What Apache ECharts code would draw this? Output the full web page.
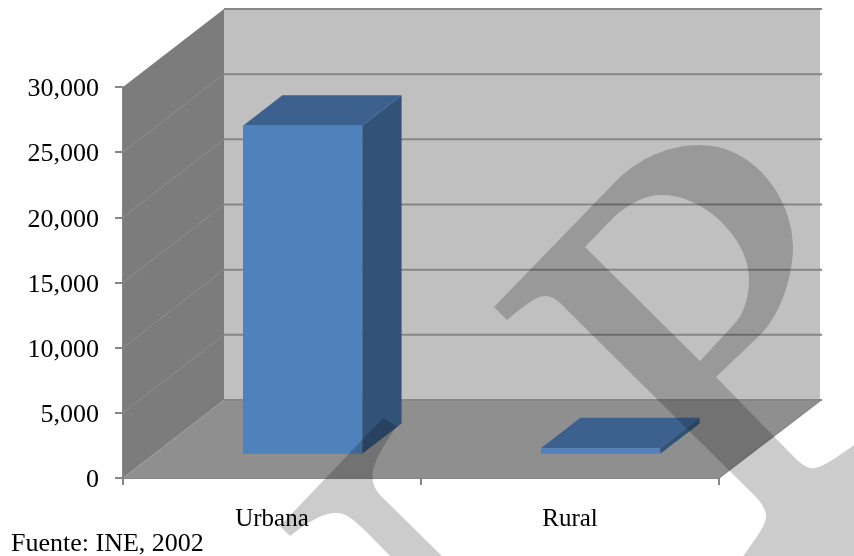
<!DOCTYPE html>
<html>
<head>
<meta charset="utf-8">
<style>
  html,body{margin:0;padding:0;background:#fff}
  #chart{width:854px;height:556px}
</style>
<script src="https://cdn.jsdelivr.net/npm/echarts@6/dist/echarts.min.js"></script>
</head>
<body>
<div id="chart"></div>
<script>
const categories = ['Urbana', 'Rural'];
const values = [25170, 430];
const yTicks = [0, 5000, 10000, 15000, 20000, 25000, 30000];
const sourceText = 'Fuente: INE, 2002';

// perspective of the fake 3d box, in px
const depthX = 101, depthY = 78;
const barFront = 0.31, barBack = 0.70;
const fontName = '"Liberation Serif", "Times New Roman", serif';

// watermark letters over the picture, traced by hand
const markP = 'M494 307 L617 180 C640 158 668 145 700 145 C755 145 793 200 793 247 C793 280 778 318 760 335 L716 377 L797 460 C805 467 810 469 815 468 C825 466 840 455 860 441 L860 562 L739 562 L744 555 C758 535 766 525 766 516 C766 510 762 504 756 497 L567 310 C558 300 552 296 545 296 C535 296 522 308 507 320 Z ' +
    'M585 247 L700 361 L737 321 C745 310 749 295 749 278 C749 240 705 195 662 195 C645 195 630 203 614 217 Z';
const markT = 'M383 418 L280 526 L290 536 C310 520 325 512 338 513 C350 514 360 525 396 562 L448 562 L380 495 C372 486 372 478 373 470 C376 458 385 443 397 426 Z';

const myChart = echarts.init(document.getElementById('chart'));

function poly(points, fill, z2) {
    return { type: 'polygon', z2: z2 || 0, shape: { points: points }, style: { fill: fill } };
}
function line(x1, y1, x2, y2, stroke, width) {
    return { type: 'line', z2: 1, shape: { x1: x1, y1: y1, x2: x2, y2: y2 }, style: { stroke: stroke, lineWidth: width } };
}

function renderWalls(params, api) {
    const cs = params.coordSys;
    const x0 = cs.x, x1 = cs.x + cs.width;
    const yBase = api.coord([0, 0])[1], yTop = api.coord([0, 30000])[1];
    const kids = [
        poly([[x0 + depthX, yTop - depthY], [x1 + depthX, yTop - depthY], [x1 + depthX, yBase - depthY], [x0 + depthX, yBase - depthY]], '#c0c0c0'),
        poly([[x0, yTop], [x0 + depthX, yTop - depthY], [x0 + depthX, yBase - depthY], [x0, yBase]], '#7c7c7c'),
        poly([[x0, yBase], [x0 + depthX, yBase - depthY], [x1 + depthX + 1, yBase - depthY], [x1, yBase]], '#8f8f8f'),
        line(x1, yBase, x1 + depthX + 1, yBase - depthY, '#868686', 1.5)
    ];
    yTicks.forEach(v => {
        const y = api.coord([0, v])[1];
        kids.push(line(x0 + depthX, y - depthY, x1 + depthX + 2, y - depthY, '#868686', 2));
        if (v > 0 && v < 30000) kids.push(line(x0, y, x0 + depthX, y - depthY, '#8e8e8e', 1));
    });
    return { type: 'group', children: kids };
}

function renderBar(params, api) {
    const i = api.value(0);
    const base = api.coord([i, 0]), top = api.coord([i, api.value(1)]);
    const w = api.size([1, 0])[0] * 0.4;
    const fx = base[0] - w / 2 + depthX * barFront - 0.7, fy = depthY * barFront;
    const bx = depthX * (barBack - barFront), by = depthY * (barBack - barFront);
    const yB = base[1] - fy, yT = top[1] - fy;
    return {
        type: 'group',
        children: [
            poly([[fx + w, yT], [fx + w + bx, yT - by], [fx + w + bx, yB - by], [fx + w, yB]], '#325379'),
            poly([[fx, yT], [fx + bx, yT - by], [fx + w + bx, yT - by], [fx + w, yT]], '#3c618f'),
            poly([[fx, yT], [fx + w, yT], [fx + w, yB], [fx, yB]], '#4f81bd')
        ]
    };
}

function renderMark() {
    const fill = 'rgba(0,0,0,0.2)';
    return {
        type: 'group',
        children: [
            { type: 'path', shape: { pathData: markP }, style: { fill: fill } },
            { type: 'path', shape: { pathData: markT }, style: { fill: fill } }
        ]
    };
}

const option = {
    animation: false,
    backgroundColor: '#fff',
    title: {
        text: sourceText,
        left: 11,
        top: 531,
        padding: 0,
        textStyle: { fontFamily: fontName, fontSize: 26, fontWeight: 'normal', color: '#000' }
    },
    grid: { left: 123, right: 135, top: 87, bottom: 78 },
    xAxis: {
        type: 'category',
        data: categories,
        axisLine: { show: true, lineStyle: { color: '#868686', width: 2 } },
        axisTick: { show: true, length: 7, lineStyle: { color: '#868686', width: 2 } },
        axisLabel: { margin: 29, fontFamily: fontName, fontSize: 25, color: '#000' }
    },
    yAxis: {
        type: 'value',
        min: 0,
        max: 30000,
        interval: 5000,
        splitLine: { show: false },
        axisLine: { show: true, lineStyle: { color: '#868686', width: 2 } },
        axisTick: { show: true, length: 8, lineStyle: { color: '#868686', width: 2 } },
        axisLabel: {
            margin: 24,
            // pushes the labels about 2px under their ticks
            verticalAlign: 'top',
            lineHeight: 5,
            fontFamily: fontName,
            fontSize: 26,
            color: '#000',
            formatter: v => v.toLocaleString('en-US')
        }
    },
    series: [
        { type: 'custom', name: 'walls', silent: true, z: 1, renderItem: renderWalls, data: [[0, 0]] },
        {
            type: 'custom',
            name: 'Población',
            z: 2,
            renderItem: renderBar,
            encode: { x: 0, y: 1 },
            data: values.map((v, i) => [i, v])
        },
        { type: 'custom', name: 'marca', silent: true, z: 100, renderItem: renderMark, data: [[0, 0]] }
    ]
};

myChart.setOption(option);
</script>
</body>
</html>
